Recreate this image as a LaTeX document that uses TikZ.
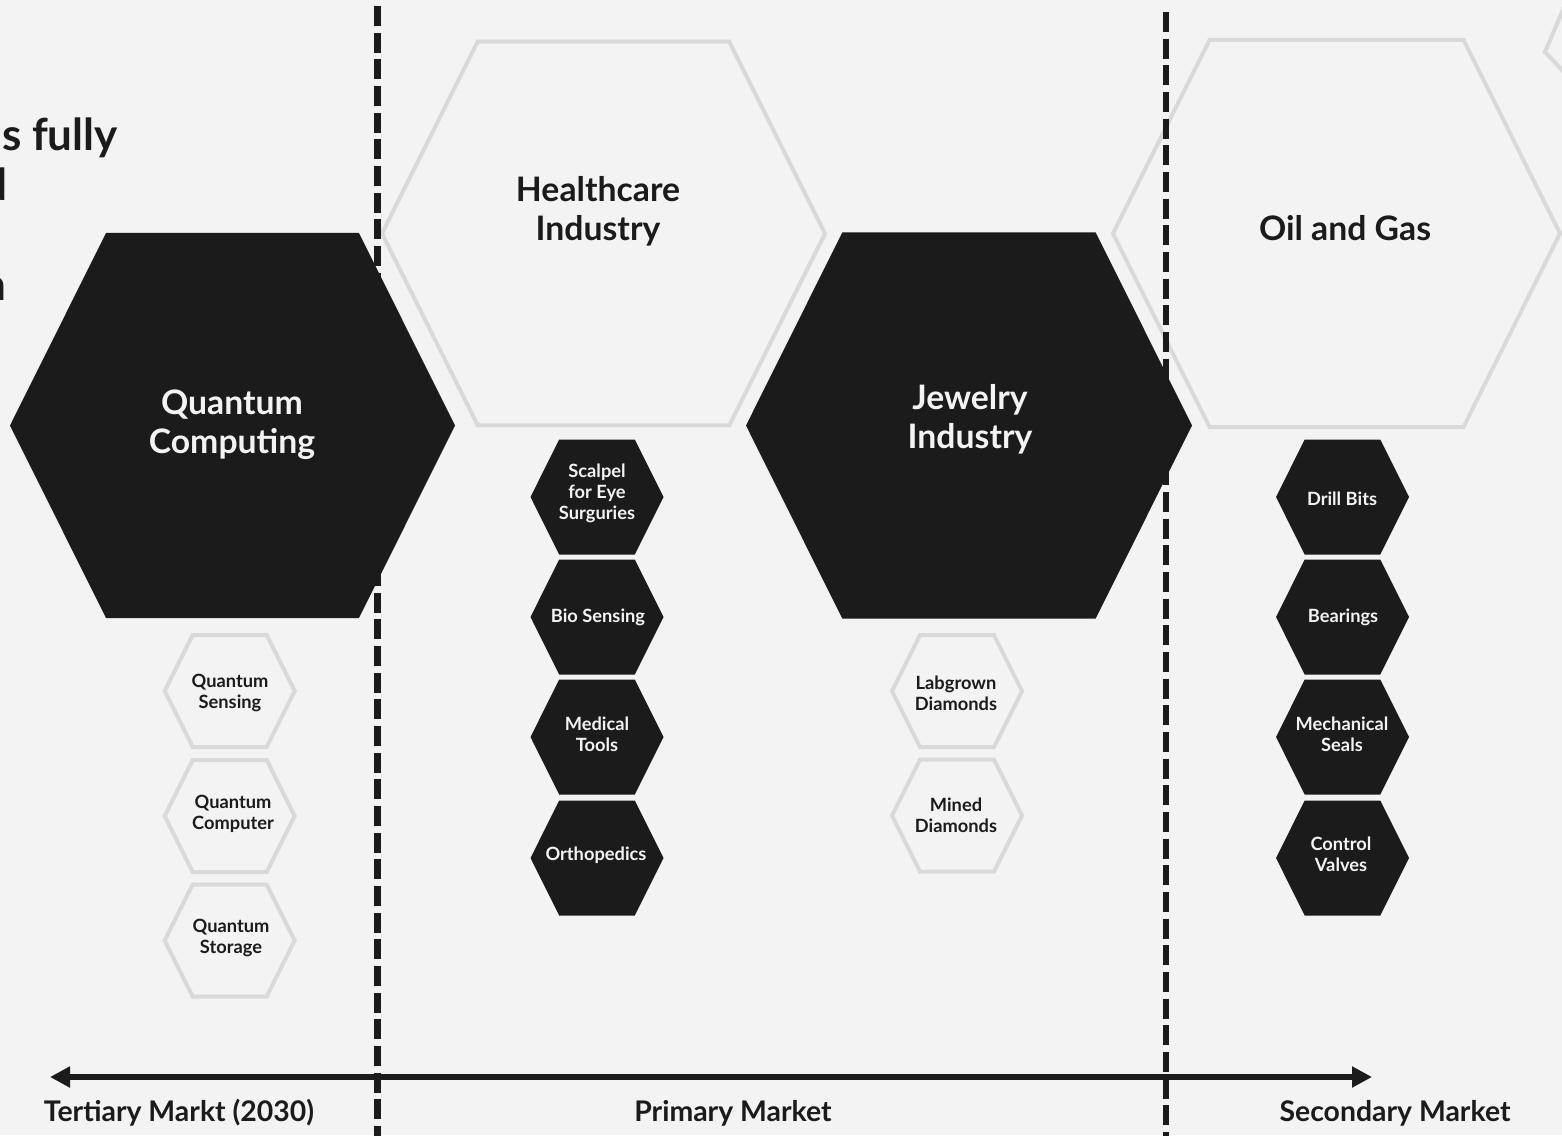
\documentclass[tikz,border=0pt]{standalone}
\usepackage{fontspec}
\setmainfont{Lato}
\usetikzlibrary{arrows.meta}

\definecolor{bgcol}{HTML}{F3F3F3}
\definecolor{inkcol}{HTML}{1B1B1B}
\definecolor{hexline}{HTML}{D9D9D9}

\begin{document}
\begin{tikzpicture}[x=0.75pt,y=0.75pt,yscale=-1,xscale=1,
  darkhex/.style={fill=inkcol,draw=none},
  lighthex/.style={draw=hexline,line width=3pt,line join=miter},
  divider/.style={draw=inkcol,line width=4.9pt,dash pattern=on 15pt off 5pt},
  biglabel/.style={text=bgcol,align=center,font=\bfseries\fontsize{25.3}{29.3}\selectfont},
  biglabeldark/.style={text=inkcol,align=center,font=\bfseries\fontsize{25.3}{29.3}\selectfont},
  smalllabel/.style={text=bgcol,align=center,font=\bfseries\fontsize{13.7}{15.7}\selectfont},
  smalllabeldark/.style={text=inkcol,align=center,font=\bfseries\fontsize{13.7}{15.7}\selectfont},
  marketlabel/.style={text=inkcol,font=\bfseries\fontsize{21.3}{25}\selectfont},
  introtext/.style={text=inkcol,anchor=base east,font=\bfseries\fontsize{33}{37}\selectfont}]
%set diagram to 1562 x 1135
\clip (0,0) rectangle (1562,1135);
\fill[bgcol] (0,0) rectangle (1562,1135);

%Shape: light hexagons, big
\foreach \cx/\cy/\w in {603.5/233.5/221.5, 1336.5/233.5/223.5}
  \draw[lighthex] ({\cx-\w},\cy) -- ({\cx-0.568*\w},{\cy-0.866*\w}) -- ({\cx+0.568*\w},{\cy-0.866*\w}) -- ({\cx+\w},\cy) -- ({\cx+0.568*\w},{\cy+0.866*\w}) -- ({\cx-0.568*\w},{\cy+0.866*\w}) -- cycle ;
%Shape: light hexagons, small
\foreach \cx/\cy in {229.7/691, 229.7/816, 229.7/940.5, 957/691, 957/815.5}
  \draw[lighthex] ({\cx-65},\cy) -- ({\cx-37},{\cy-56}) -- ({\cx+37},{\cy-56}) -- ({\cx+65},\cy) -- ({\cx+37},{\cy+56}) -- ({\cx-37},{\cy+56}) -- cycle ;
%Shape: hexagon in the corner
\draw[lighthex] (1568,-2) -- (1545,52) -- (1566,74) ;

%Straight Lines: market borders
\coordinate (divAtop) at (377.5,6);
\coordinate (divAbot) at (377.5,1140);
\coordinate (divBtop) at (1166,12);
\coordinate (divBbot) at (1166,1140);
\draw[divider] (divAtop) -- (divAbot) ;
\draw[divider] (divBtop) -- (divBbot) ;

%Shape: dark hexagons, big
\foreach \cx/\cy/\w in {232.5/425.5/222.5, 969/425.5/223}
  \fill[darkhex] ({\cx-\w},\cy) -- ({\cx-0.568*\w},{\cy-0.866*\w}) -- ({\cx+0.568*\w},{\cy-0.866*\w}) -- ({\cx+\w},\cy) -- ({\cx+0.568*\w},{\cy+0.866*\w}) -- ({\cx-0.568*\w},{\cy+0.866*\w}) -- cycle ;
%Shape: dark hexagons, small
\foreach \cx/\cy in {597/497, 597/617, 597/737, 597/858, 1342.5/497, 1342.5/617, 1342.5/737, 1342.5/858}
  \fill[darkhex] ({\cx-66.5},\cy) -- ({\cx-37.8},{\cy-57.5}) -- ({\cx+37.8},{\cy-57.5}) -- ({\cx+66.5},\cy) -- ({\cx+37.8},{\cy+57.5}) -- ({\cx-37.8},{\cy+57.5}) -- cycle ;

%Arrow: market axis
\coordinate (axisL) at (50,1077);
\coordinate (axisR) at (1372,1077);
\draw[inkcol,line width=5.2pt,{Triangle[length=15pt,width=15pt]}-{Triangle[length=15pt,width=15pt]}] (axisL) -- (axisR) ;

% Text Node
\node[introtext] (intro1) at (122.5,150) {s fully};
% Text Node
\node[introtext] (intro2) at (12,200) {d};
% Text Node
\node[introtext] (intro3) at (11,300) {n};

% Text Node
\node[biglabel] (qc) at (232,425) {Quantum\\Computing};
% Text Node
\node[biglabeldark] (health) at (598,211) {Healthcare\\Industry};
% Text Node
\node[biglabel] (jewel) at (970,419) {Jewelry\\Industry};
% Text Node
\node[biglabeldark] (oil) at (1345,228) {Oil and Gas};

% Text Node
\node[smalllabeldark] (qsense) at (230,693) {Quantum\\Sensing};
% Text Node
\node[smalllabeldark] (qcomp) at (233,814) {Quantum\\Computer};
% Text Node
\node[smalllabeldark] (qstore) at (231,938) {Quantum\\Storage};

% Text Node
\node[smalllabel] (scalpel) at (597,493) {Scalpel\\for Eye\\Surguries};
% Text Node
\node[smalllabel] (bio) at (598,617) {Bio Sensing};
% Text Node
\node[smalllabel] (medtools) at (597,734) {Medical\\Tools};
% Text Node
\node[smalllabel] (ortho) at (596,855) {Orthopedics};

% Text Node
\node[smalllabeldark] (labgrown) at (956,693) {Labgrown\\Diamonds};
% Text Node
\node[smalllabeldark] (mined) at (956,815) {Mined\\Diamonds};

% Text Node
\node[smalllabel] (drill) at (1342,499) {Drill Bits};
% Text Node
\node[smalllabel] (bearings) at (1343,617) {Bearings};
% Text Node
\node[smalllabel] (seals) at (1342,734) {Mechanical\\Seals};
% Text Node
\node[smalllabel] (valves) at (1341,854) {Control\\Valves};

% Text Node
\node[marketlabel] (tertiary) at (179,1113) {Tertiary Markt (2030)};
% Text Node
\node[marketlabel] (primary) at (733,1113) {Primary Market};
% Text Node
\node[marketlabel] (secondary) at (1395,1113) {Secondary Market};

\end{tikzpicture}
\end{document}
